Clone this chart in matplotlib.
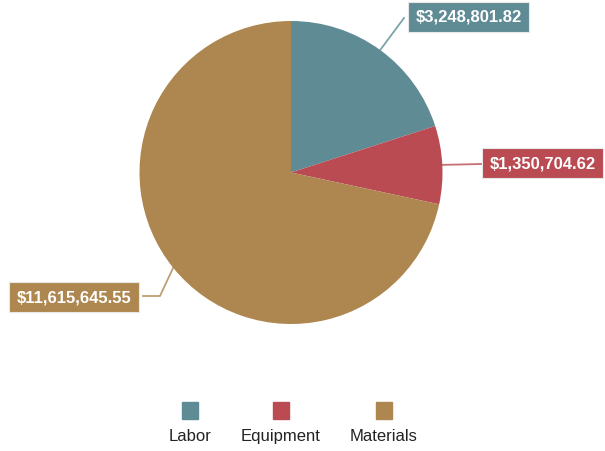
import numpy as np
import matplotlib.pyplot as plt
from matplotlib.patches import Rectangle

categories = ['Labor', 'Equipment', 'Materials']
values = [3248801.82, 1350704.62, 11615645.55]
colors = ['#5e8b94', '#bb4b52', '#ad874f']

W, H = 605, 452
cx, cy, R = 291, H - 173.5, 151.5

fig = plt.figure(figsize=(6.05, 4.52), dpi=100)
ax = fig.add_axes([0, 0, 1, 1])
wedges, _ = ax.pie(values, colors=colors, startangle=90, counterclock=False,
                   radius=R, center=(cx, cy), frame=False)
ax.set_xlim(0, W)
ax.set_ylim(0, H)
ax.set_aspect('equal')
ax.axis('off')

# label boxes (box centre) and the elbow of the leader line
box_pos = [(468.5, H - 17.5), (542.5, H - 164), (74, H - 298)]
box_edge = [(404, H - 19), (481, H - 165), (143, H - 297)]
elbows = [None, None, (160, H - 297)]

for w, v, c, bp, be, el in zip(wedges, values, colors, box_pos, box_edge, elbows):
    mid = np.deg2rad((w.theta1 + w.theta2) / 2)
    px, py = cx + R * np.cos(mid), cy + R * np.sin(mid)
    if el is None:
        xs, ys = [px, be[0]], [py, be[1]]
    else:
        xs, ys = [px, el[0], be[0]], [py, el[1], be[1]]
    ax.plot(xs, ys, color=c, lw=1.3, alpha=0.8, zorder=1)
    ax.text(bp[0], bp[1], '${:,.2f}'.format(v), color='white', fontsize=12,
            family='Liberation Sans', fontweight='bold', ha='center', va='center',
            bbox=dict(boxstyle='square,pad=0.45', fc=c, ec='#e8e8e8', lw=0.8),
            zorder=3)

# legend: squares with names underneath
leg_x = [190, 281, 384]
for lx, name, c in zip(leg_x, categories, colors):
    ax.add_patch(Rectangle((lx - 8, H - 420), 16, 17, color=c))
    ax.text(lx, H - 437, name, fontsize=12, family='Liberation Sans',
            color='#222222', ha='center', va='center')

fig.savefig('out.png', dpi=100)
